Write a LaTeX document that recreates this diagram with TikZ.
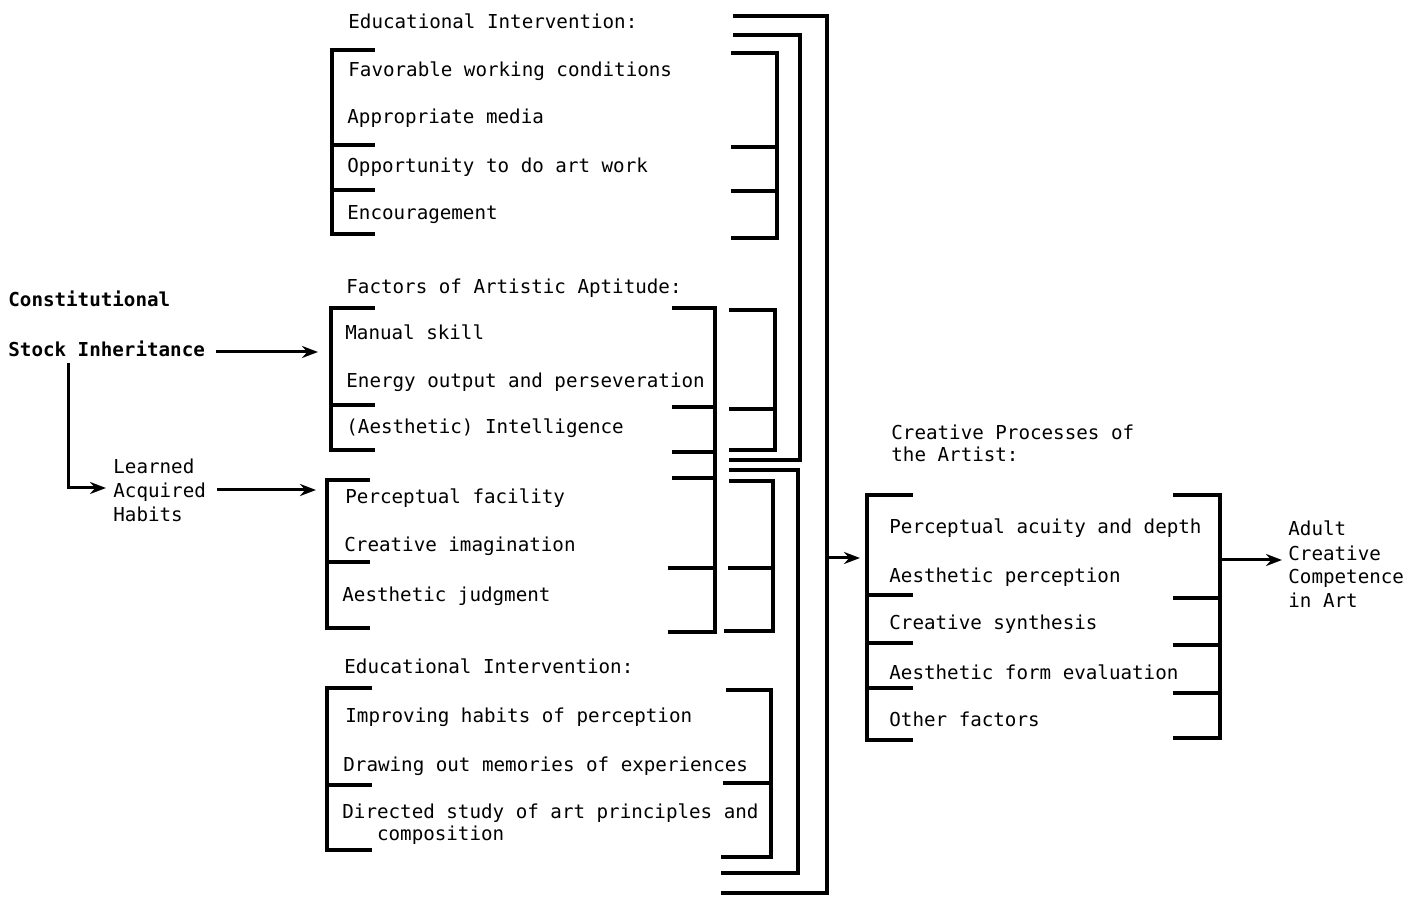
\documentclass[tikz,border=0pt]{standalone}
\usepackage{fontspec}
\usetikzlibrary{arrows.meta}
\newfontfamily\typefont{DejaVu Sans Mono}
\tikzset{
  lbl/.style={anchor=base west, inner sep=0pt, align=left,
              font=\typefont\fontsize{9.6}{12}\selectfont},
  src/.style={lbl, font=\typefont\bfseries\fontsize{9.6}{12}\selectfont},
  brk/.style={line width=1.6pt, line join=miter},
  arrow/.style={-{Stealth[length=8pt,width=6pt]}, line width=1.5pt},
}

\begin{document}
\begin{tikzpicture}[x=0.5pt, y=-0.5pt]
  \useasboundingbox (0,0) rectangle (1408,897);

  % left: sources
  \node[src] (const) at (8,307) {Constitutional};
  \node[src] (stock) at (8,357) {Stock Inheritance};
  \node[lbl] (learned) at (113,522) {Learned\\Acquired\\Habits};

  % educational intervention (top)
  \node[lbl] (edutop) at (348,29) {Educational Intervention:};
  \node[lbl] (favor) at (348,77) {Favorable working conditions};
  \node[lbl] (media) at (347,124) {Appropriate media};
  \node[lbl] (oppor) at (347,173) {Opportunity to do art work};
  \node[lbl] (encour) at (347,220) {Encouragement};

  % factors of artistic aptitude
  \node[lbl] (factors) at (346,294) {Factors of Artistic Aptitude:};
  \node[lbl] (manual) at (345,340) {Manual skill};
  \node[lbl] (energy) at (346,388) {Energy output and perseveration};
  \node[lbl] (intel) at (346,434) {(Aesthetic) Intelligence};
  \node[lbl] (percf) at (345,504) {Perceptual facility};
  \node[lbl] (imagin) at (344,552) {Creative imagination};
  \node[lbl] (judgm) at (342,602) {Aesthetic judgment};

  % educational intervention (bottom)
  \node[lbl] (edubot) at (344,673) {Educational Intervention:};
  \node[lbl] (habits) at (345,722) {Improving habits of perception};
  \node[lbl] (memor) at (343,771) {Drawing out memories of experiences};
  \node[lbl, font=\typefont\fontsize{9.6}{11}\selectfont] (study) at (342,840)
    {Directed study of art principles and\\\hspace*{1.806em}composition};

  % creative processes
  \node[lbl, font=\typefont\fontsize{9.6}{11}\selectfont] (procs) at (891,462)
    {Creative Processes of\\the Artist:};
  \node[lbl] (acuity) at (889,534) {Perceptual acuity and depth};
  \node[lbl] (aesper) at (889,582) {Aesthetic perception};
  \node[lbl] (synth) at (889,630) {Creative synthesis};
  \node[lbl] (formev) at (889,679) {Aesthetic form evaluation};
  \node[lbl] (other) at (889,726) {Other factors};
  \node[lbl] (adult) at (1288,608) {Adult\\Creative\\Competence\\in Art};

  % brackets, top group
  \draw[brk] (375,50) -- (332,50) -- (332,234) -- (375,234);
  \draw[brk] (332,145) -- (375,145) (332,190) -- (375,190);
  \draw[brk] (731,53) -- (777,53) -- (777,238) -- (731,238);
  \draw[brk] (731,147) -- (777,147) (731,191) -- (777,191);

  % brackets, aptitude
  \draw[brk] (375,308) -- (331,308) -- (331,450) -- (375,450);
  \draw[brk] (331,405) -- (375,405);
  \draw[brk] (672,308) -- (715,308) -- (715,632) -- (668,632);
  \draw[brk] (672,407) -- (715,407) (672,452) -- (715,452)
             (672,478) -- (715,478) (668,568) -- (715,568);
  \draw[brk] (729,310) -- (775,310) -- (775,450) -- (729,450);
  \draw[brk] (729,409) -- (775,409);
  \draw[brk] (370,480) -- (327,480) -- (327,628) -- (370,628);
  \draw[brk] (327,562) -- (370,562);
  \draw[brk] (729,481) -- (773,481) -- (773,631) -- (724,631);
  \draw[brk] (728,568) -- (773,568);

  % brackets, bottom group
  \draw[brk] (372,688) -- (327,688) -- (327,850) -- (372,850);
  \draw[brk] (327,785) -- (372,785);
  \draw[brk] (726,690) -- (771,690) -- (771,857) -- (721,857);
  \draw[brk] (723,783) -- (771,783);

  % collecting lines
  \draw[brk] (733,16) -- (827,16) -- (827,893) -- (721,893);
  \draw[brk] (733,35) -- (800,35) -- (800,460) -- (729,460);
  \draw[brk] (729,470) -- (798,470) -- (798,873) -- (721,873);

  % brackets, creative processes
  \draw[brk] (913,495) -- (867,495) -- (867,740) -- (913,740);
  \draw[brk] (867,595) -- (913,595) (867,643) -- (913,643) (867,688) -- (913,688);
  \draw[brk] (1173,495) -- (1220,495) -- (1220,738) -- (1173,738);
  \draw[brk] (1173,598) -- (1220,598) (1173,645) -- (1220,645) (1173,693) -- (1220,693);

  % arrows
  \coordinate (aptin) at (318,352);
  \coordinate (percin) at (316,490);
  \coordinate (learnin) at (106,488);
  \coordinate (outerj) at (827,558);
  \coordinate (crein) at (860,558);
  \coordinate (crej) at (1220,560);
  \coordinate (adultin) at (1282,560);
  \draw[arrow] (aptin -| stock.east) ++(11,0) -- (aptin);
  \draw[arrow] ([xshift=30pt,yshift=-2.5pt]stock.south west) |- (learnin);
  \draw[arrow] (percin -| learned.east) ++(11,0) -- (percin);
  \draw[arrow] (outerj) -- (crein);
  \draw[arrow] (crej) -- (adultin);
\end{tikzpicture}
\end{document}
